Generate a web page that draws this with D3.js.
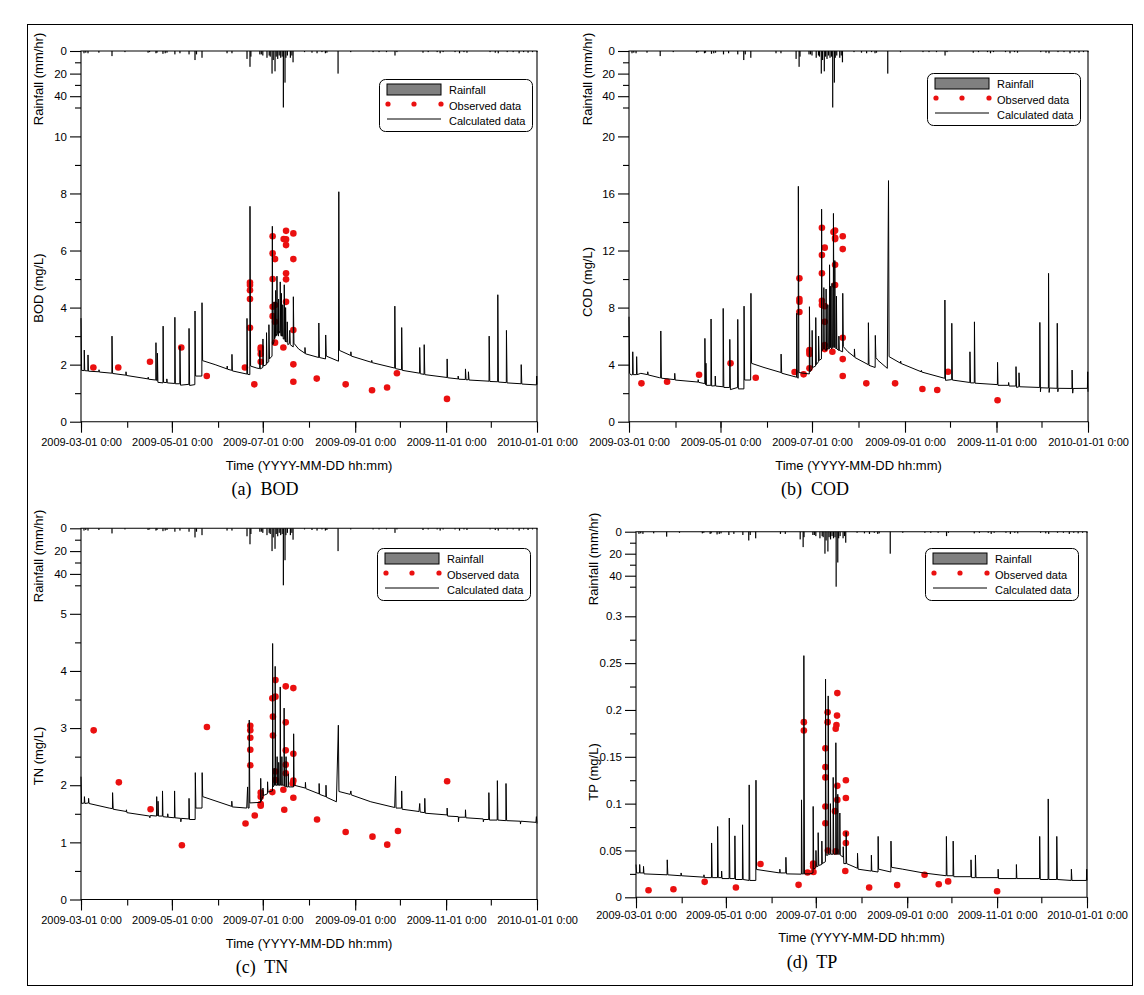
<!DOCTYPE html>
<html><head><meta charset="utf-8">
<script src="https://cdn.jsdelivr.net/npm/d3@7"></script>
<style>
body{margin:0;background:#fff}
svg{display:block}
text{font-family:"Liberation Sans",Arial,sans-serif;fill:#000}
</style>
</head><body>
<svg id="chart" width="1144" height="995"></svg>
<script>
// ---------------- DATA (days since 2009-03-01 0:00, value) ----------------
const startDate = "2009-03-01";
const endDate = "2010-01-01";

// hourly rainfall events: [day, mm/hr]
const rainfall = [[2,2],[3.2,1.5],[4.7,2],[12,1.5],[20.8,4.5],[29.5,1],[45,1.5],[46,1],[50.3,2],[51,1.5],[55,2.5],[56.5,2],[57.7,1.5],[63,3],[66.4,2],[72.5,3],[76.5,8],[77.5,3],[81.2,6],[98,2],[101.3,2],[111.4,7],[113.4,14],[114,5],[120,3],[121,3],[122,4],[124.8,6],[126.3,4],[127,5],[128.2,20],[129,8],[130.2,18],[131,5],[132,7],[133,4],[134,6],[135,5],[135.8,50],[136.9,28],[137.5,6],[138.5,4],[140.5,6],[141.5,4],[142.3,10],[150,1],[155,1.5],[158.4,2],[161.7,1],[164,2],[165,1.5],[172.5,20],[181,1],[196,1],[200,1],[205,1],[210.7,4],[212,1],[229.5,1.5],[233,1],[239,1],[241,2],[243,1],[251,1],[254,2],[257,1],[259,1.5],[274.5,1],[278,1.5],[280,2],[286,1],[290,1],[294,2],[297,1],[300,1.5],[303,1],[306,1]];

const bodObserved = [[8.3,1.9],[25,1.9],[46.3,2.1],[67.3,2.6],[84.4,1.6],[110,1.9],[113.4,4.88],[113.4,4.79],[113.4,4.61],[113.4,4.3],[113.4,3.29],[116.3,1.31],[120.6,2.6],[120.6,2.51],[120.6,2.37],[120.6,2.1],[128.6,6.5],[128.6,5.9],[128.6,5.0],[128.6,4.03],[128.6,3.7],[130.2,5.7],[130.2,4.09],[130.2,3.5],[130.2,2.77],[135.8,2.6],[136,6.4],[137.6,6.69],[137.6,6.39],[137.6,6.19],[137.6,5.2],[137.6,4.99],[137.6,4.2],[142.5,6.6],[142.5,5.7],[142.5,3.21],[142.5,2.01],[142.5,1.4],[158.2,1.51],[177.6,1.31],[195.3,1.1],[205.4,1.2],[212,1.7],[245.6,0.8]];
const codObserved = [[8.3,2.69],[25.4,2.8],[46.7,3.29],[67.7,4.09],[84.5,3.08],[110.4,3.48],[113.6,10.05],[113.6,8.6],[113.6,8.41],[113.6,7.69],[116.4,3.32],[120.3,5.02],[120.3,4.91],[120.3,4.74],[120.3,3.74],[128.6,13.6],[128.6,11.68],[128.6,10.4],[128.6,8.48],[128.6,8.18],[130.5,12.2],[130.5,8.1],[130.5,7.0],[130.5,5.37],[130.5,5.09],[135.6,4.9],[136.3,13.3],[137.4,13.4],[137.4,12.9],[137.4,12.8],[137.4,11.0],[137.4,9.58],[142.5,13.0],[142.5,12.1],[142.5,5.89],[142.5,4.39],[142.5,3.2],[158.2,2.69],[177.4,2.69],[195.6,2.29],[205.5,2.22],[212.7,3.5],[245.7,1.5]];
const tnObserved = [[8.5,2.96],[25.4,2.05],[46.7,1.58],[67.7,0.95],[84.5,3.02],[110.4,1.33],[113.6,3.04],[113.6,2.96],[113.6,2.83],[113.6,2.62],[113.6,2.35],[116.6,1.47],[120.6,1.87],[120.6,1.8],[120.6,1.64],[120.6,1.67],[128.4,3.52],[128.8,3.2],[128.8,2.87],[128.4,1.88],[130.5,3.84],[130.5,3.55],[130.5,2.24],[130.5,2.09],[135.8,1.92],[136.4,1.57],[137.4,3.73],[137.4,3.1],[137.4,2.61],[137.4,2.36],[137.4,2.21],[142.5,3.7],[142.5,2.55],[142.5,2.08],[142.5,1.78],[142.1,2.03],[158.4,1.4],[177.6,1.18],[195.6,1.1],[205.5,0.96],[212.7,1.2],[245.7,2.07]];
const tpObserved = [[8.5,0.0075],[25.4,0.0086],[46.6,0.0165],[67.8,0.0104],[84.5,0.0355],[110.3,0.0133],[113.9,0.187],[113.9,0.178],[116.4,0.0265],[120.2,0.036],[120.2,0.033],[120.4,0.027],[128.5,0.159],[128.5,0.139],[128.5,0.128],[128.5,0.097],[128.5,0.079],[130,0.1975],[130,0.187],[130.2,0.05],[135.5,0.18],[136,0.184],[136.4,0.194],[136.6,0.218],[136.6,0.119],[136.6,0.104],[135,0.092],[135.5,0.049],[142.4,0.125],[142.4,0.106],[142.4,0.068],[142.4,0.058],[142,0.028],[158.2,0.0104],[177.2,0.013],[195.8,0.024],[205.4,0.014],[211.8,0.017],[245,0.0065]];

const bodCalculated = [[0,3.63],[0.4,1.8],[2.1,1.79],[2.2,2.51],[2.5,1.79],[4.6,1.78],[4.7,2.34],[5.0,1.77],[12,1.75],[12.1,1.82],[12.3,1.74],[20.7,1.7],[20.8,3.0],[21.2,1.69],[30.1,1.63],[30.2,1.75],[30.5,1.62],[45,1.5],[45.1,1.56],[45.3,1.49],[50.2,1.46],[50.3,2.77],[50.6,1.45],[51.2,1.44],[51.3,2.4],[51.6,1.38],[55,1.36],[55.1,3.35],[55.4,1.38],[57.5,1.37],[57.6,1.5],[57.9,1.36],[62.9,1.34],[63,3.66],[63.3,1.33],[66.3,1.33],[66.4,2.65],[66.8,1.28],[72.4,1.31],[72.5,3.27],[72.9,1.27],[76.4,1.3],[76.5,3.88],[76.9,1.6],[81.1,1.6],[81.2,4.17],[81.6,2.14],[90,2.0],[98,1.85],[98.1,1.95],[98.3,1.84],[101.2,1.8],[101.3,2.36],[101.6,1.78],[111.3,1.67],[111.4,3.62],[111.8,1.66],[113.3,1.65],[113.4,7.55],[113.8,1.95],[118,1.88],[119.9,1.86],[120,2.5],[120.3,1.85],[122,1.9],[122.1,2.9],[122.4,1.95],[124.4,2.0],[124.5,3.12],[124.8,2.05],[126,2.1],[126.1,3.4],[126.5,2.2],[128.2,2.3],[128.4,6.85],[128.7,2.7],[129.5,2.8],[129.6,4.2],[129.9,2.9],[130.5,3.0],[130.6,4.6],[130.9,3.0],[131.4,3.1],[131.5,5.1],[131.8,3.1],[132.5,3.0],[132.6,4.3],[132.9,3.1],[133.6,3.2],[133.7,4.9],[134,3.1],[134.4,3.0],[134.5,4.5],[134.8,3.0],[135.3,3.0],[135.4,4.1],[135.7,2.9],[136.3,2.9],[136.4,4.8],[136.7,2.9],[137.2,2.8],[137.3,4.0],[137.6,2.8],[138.3,2.8],[138.4,3.5],[138.8,2.7],[140,2.75],[140.1,3.2],[140.4,2.7],[142.4,2.62],[142.5,4.38],[142.9,2.75],[146,2.55],[150.2,2.4],[150.3,2.6],[150.6,2.38],[159.5,2.25],[159.6,3.46],[160,2.25],[164.1,2.2],[164.2,3.04],[164.6,2.3],[172.8,2.12],[173,8.06],[173.4,2.5],[181,2.32],[181.1,2.45],[181.4,2.3],[195,2.08],[195.1,2.15],[195.4,2.07],[210.5,1.88],[210.6,4.05],[211,1.86],[215.1,1.82],[215.2,3.3],[215.6,1.8],[227.2,1.7],[227.3,2.6],[227.7,1.68],[230.2,1.66],[230.3,2.7],[230.7,1.65],[245.6,1.55],[245.7,2.2],[246,1.54],[253,1.5],[253.1,1.6],[253.4,1.49],[257.9,1.48],[258,1.85],[258.4,1.47],[259.9,1.47],[260,1.75],[260.4,1.46],[273.8,1.42],[273.9,3.0],[274.3,1.41],[279.6,1.4],[279.7,4.45],[280.1,1.39],[285.4,1.37],[285.5,3.2],[285.9,1.36],[295.3,1.33],[295.4,2.0],[295.8,1.32],[305.6,1.29],[305.8,1.6],[306,1.3]];

const codCalculated = [[0,7.36],[0.4,3.4],[1.4,3.27],[2.4,3.3],[2.5,4.9],[2.8,3.3],[5.0,3.3],[5.1,4.56],[5.4,3.3],[7.9,3.39],[12.4,3.3],[12.5,3.5],[12.8,3.28],[20.5,3.08],[21.1,3.07],[21.2,6.36],[21.6,3.05],[30.4,2.95],[30.5,3.39],[30.8,2.92],[46,2.78],[46.1,2.95],[46.4,2.76],[50.5,2.67],[50.6,5.84],[51,2.6],[51.2,2.6],[51.3,4.1],[51.6,2.55],[54.6,2.55],[54.7,7.2],[55.1,2.5],[57.4,2.52],[57.5,3.2],[57.8,2.5],[62.7,2.45],[62.8,7.94],[63.2,2.4],[67.1,2.4],[67.2,5.77],[67.6,2.25],[72.4,2.4],[72.5,7.17],[72.9,2.3],[76.6,2.3],[76.7,8.1],[77.1,2.92],[81.1,2.92],[81.3,9.0],[81.7,4.09],[90,3.8],[101.3,3.45],[101.4,4.74],[101.8,3.4],[111.7,3.12],[111.8,7.6],[112.1,3.1],[112.8,3.05],[112.9,16.5],[113.3,3.45],[116,3.4],[120.2,3.35],[120.3,8.06],[120.7,3.5],[122,3.7],[122.1,6.4],[122.4,3.8],[124.4,3.9],[124.5,7.3],[124.9,4.0],[126.3,4.2],[126.4,6.0],[126.8,4.3],[128.3,4.4],[128.4,14.9],[128.8,5.0],[129.8,5.1],[129.9,9.4],[130.2,5.1],[131.3,5.0],[131.4,9.3],[131.7,5.0],[132.5,5.2],[132.6,8.2],[132.9,5.1],[133.6,5.1],[133.7,11.0],[134,5.2],[134.3,5.2],[134.4,9.5],[134.7,5.2],[135.2,5.1],[135.3,9.7],[135.6,5.2],[136.2,5.2],[136.3,14.6],[136.7,5.3],[137.1,5.2],[137.2,11.3],[137.5,5.2],[138.2,5.1],[138.3,8.8],[138.6,5.1],[139.8,5.0],[139.9,6.0],[140.2,5.0],[142.4,4.9],[142.5,9.0],[142.9,5.26],[146,4.9],[150.2,4.55],[150.3,5.1],[150.6,4.5],[159.5,4.0],[159.6,6.94],[160,3.95],[164.1,3.8],[164.2,6.05],[164.6,4.5],[166,4.3],[172.2,3.74],[173,16.9],[173.4,4.56],[181,4.1],[181.1,4.25],[181.4,4.08],[194.8,3.5],[194.9,3.6],[195.2,3.48],[210.5,3.04],[210.6,8.53],[211,2.9],[215.1,2.95],[215.2,6.9],[215.6,2.92],[227.2,2.75],[227.3,4.9],[227.7,2.72],[230.2,2.72],[230.3,7.0],[230.7,2.7],[245.6,2.6],[245.7,4.16],[246,2.55],[253,2.55],[253.1,2.75],[253.4,2.5],[257.9,2.5],[258,3.86],[258.4,2.4],[259.9,2.45],[260,3.43],[260.4,2.45],[273.8,2.4],[273.9,6.96],[274.3,2.1],[274.5,2.38],[279.6,2.36],[279.7,10.4],[280.1,2.05],[280.4,2.36],[285.4,2.34],[285.5,6.9],[285.9,2.1],[286.2,2.34],[295.3,2.33],[295.4,3.62],[295.8,2.0],[296.1,2.33],[305.6,2.34],[305.8,3.5],[306,2.1]];

const tnCalculated = [[0,2.15],[0.4,1.68],[2.2,1.69],[2.3,1.8],[2.6,1.68],[5.0,1.69],[5.1,1.77],[5.4,1.68],[18.9,1.6],[21.1,1.59],[21.2,1.87],[21.6,1.58],[30.4,1.54],[30.5,1.57],[30.8,1.52],[46.1,1.46],[46.2,1.43],[46.5,1.47],[50.7,1.46],[50.8,1.8],[51.1,1.47],[51.6,1.47],[51.7,1.72],[52,1.46],[54.6,1.46],[54.7,1.9],[55,1.45],[58.1,1.44],[58.2,1.5],[58.5,1.44],[62.7,1.43],[62.8,1.9],[63.1,1.43],[66.9,1.42],[67,1.36],[67.3,1.42],[72.4,1.41],[72.5,1.77],[72.8,1.4],[76.6,1.4],[76.7,2.22],[77.1,1.6],[81.2,1.6],[81.3,2.22],[81.7,1.8],[101.1,1.63],[101.2,1.72],[101.5,1.62],[111.2,1.6],[111.8,1.97],[112.1,1.6],[112.8,1.6],[112.9,3.14],[113.3,1.69],[120.5,1.7],[120.6,2.12],[120.9,1.72],[122,1.8],[122.1,1.95],[122.4,1.82],[125.1,1.85],[125.2,2.06],[125.5,1.88],[128.5,1.9],[128.6,4.48],[128.9,1.97],[129.5,2.0],[129.6,2.3],[129.9,2.0],[130.2,2.0],[130.3,4.08],[130.6,2.0],[131.5,2.0],[131.6,2.5],[131.9,2.0],[132.6,2.0],[132.7,2.4],[133,2.0],[133.6,2.0],[133.7,3.72],[134,2.0],[134.7,2.0],[134.8,2.5],[135.1,2.0],[136.2,2.0],[136.3,3.35],[136.6,1.98],[137.5,1.98],[137.6,2.5],[137.9,1.97],[139,1.97],[139.1,2.2],[139.4,1.97],[142.6,1.97],[142.7,2.9],[143,2.0],[150.5,1.95],[150.6,2.05],[150.9,1.94],[159.7,1.85],[159.8,2.03],[160.1,1.84],[164.3,1.8],[164.4,2.0],[164.7,1.79],[171.4,1.71],[172.7,3.05],[173.1,1.89],[180.6,1.84],[181.1,1.9],[181.4,1.83],[194.5,1.71],[210.5,1.61],[211.1,2.16],[211.4,1.6],[215.1,1.6],[215.2,1.9],[215.5,1.58],[226.8,1.54],[227.3,1.68],[227.6,1.53],[230.6,1.52],[230.7,1.77],[231,1.51],[245.6,1.48],[245.7,1.6],[246,1.46],[253.2,1.45],[253.3,1.36],[253.6,1.44],[257.9,1.44],[258,1.57],[258.3,1.43],[269.9,1.41],[270,1.36],[270.3,1.4],[273.6,1.4],[273.7,1.87],[274.1,1.39],[279.3,1.39],[279.4,2.08],[279.8,1.39],[285.1,1.38],[285.2,2.03],[285.6,1.38],[294.8,1.37],[294.9,1.32],[295.2,1.37],[305.3,1.35],[305.6,1.45],[306,1.33]];

const tpCalculated = [[0,0.035],[0.4,0.026],[2.4,0.026],[2.5,0.035],[2.8,0.026],[5,0.026],[5.1,0.033],[5.4,0.025],[21.1,0.024],[21.2,0.04],[21.6,0.024],[30.5,0.023],[30.6,0.026],[30.9,0.023],[46,0.0215],[46.1,0.024],[46.4,0.021],[51.2,0.021],[51.3,0.058],[51.7,0.021],[55.3,0.021],[55.4,0.0756],[55.8,0.021],[58,0.021],[58.1,0.028],[58.4,0.02],[63.2,0.02],[63.3,0.0846],[63.7,0.02],[67,0.02],[67.1,0.0656],[67.5,0.019],[72.2,0.019],[72.3,0.0774],[72.7,0.019],[76.7,0.018],[76.8,0.12],[77.2,0.018],[81.3,0.018],[81.4,0.125],[81.8,0.0297],[97.5,0.026],[97.6,0.03],[97.9,0.026],[101.6,0.026],[101.7,0.0427],[102.1,0.025],[112.2,0.0247],[112.3,0.104],[112.7,0.025],[113.8,0.025],[113.9,0.258],[114.3,0.025],[118,0.025],[120.1,0.026],[120.2,0.097],[120.6,0.03],[122,0.032],[122.1,0.05],[122.4,0.033],[123.5,0.033],[123.6,0.069],[124,0.034],[126,0.035],[126.1,0.06],[126.4,0.036],[128.5,0.038],[128.6,0.233],[129,0.045],[130.3,0.045],[130.4,0.215],[130.8,0.046],[131.8,0.046],[131.9,0.1],[132.2,0.046],[133.7,0.046],[133.8,0.128],[134.2,0.046],[135.5,0.046],[135.6,0.165],[136,0.046],[136.8,0.046],[136.9,0.11],[137.2,0.046],[138.2,0.046],[138.3,0.09],[138.6,0.045],[140.5,0.043],[140.6,0.054],[141,0.036],[142.5,0.036],[142.6,0.07],[142.9,0.036],[150.2,0.031],[150.3,0.047],[150.7,0.03],[159.6,0.028],[159.7,0.045],[160,0.028],[164.2,0.027],[164.3,0.065],[164.6,0.03],[172.9,0.027],[173,0.06],[173.4,0.032],[181,0.03],[195,0.026],[210.5,0.023],[210.6,0.065],[211,0.023],[215.1,0.023],[215.2,0.06],[215.6,0.022],[227.2,0.022],[227.3,0.04],[227.7,0.021],[230.2,0.021],[230.3,0.045],[230.7,0.021],[245.6,0.021],[245.7,0.03],[246,0.02],[258,0.02],[258.1,0.035],[258.4,0.02],[273.8,0.02],[273.9,0.065],[274.3,0.019],[279.6,0.019],[279.7,0.105],[280.1,0.019],[285.4,0.019],[285.5,0.065],[285.9,0.019],[295.3,0.018],[295.4,0.03],[295.8,0.018],[305.6,0.018],[305.8,0.03],[306,0.018]];

// axis tick labels
const rainMajorTicks = [0, 20, 40];
const rainMinorTicks = [10, 30, 50];
const bodTicks = [0, 2, 4, 6, 8, 10], bodMinor = [1, 3, 5, 7, 9];
const codTicks = [0, 4, 8, 12, 16, 20], codMinor = [2, 6, 10, 14, 18];
const tnTicks = [0, 1, 2, 3, 4, 5], tnMinor = [0.5, 1.5, 2.5, 3.5, 4.5];
const tpTicks = [0, 0.05, 0.1, 0.15, 0.2, 0.25, 0.3], tpMinor = [0.025, 0.075, 0.125, 0.175, 0.225, 0.275];
const legendLabels = ["Rainfall", "Observed data", "Calculated data"];
const xTitle = "Time (YYYY-MM-DD hh:mm)";
const rainTitle = "Rainfall (mm/hr)";

// ---------------- LAYOUT ----------------
const panels = [
  {cap:"(a)  BOD", capX:265, yTitle:"BOD (mg/L)", obs:bodObserved, calc:bodCalculated, ticks:bodTicks, minor:bodMinor,
   L:81, R:537, T:51, B:421.7, topTickY:136.4, rainPerMm:1.13, yTitleY:288, rainTitleY:79, titleX:38, legX:379, legY:79,
   lblPad:6, xTitleDy:48, capDy:73},
  {cap:"(b)  COD", capX:815, yTitle:"COD (mg/L)", obs:codObserved, calc:codCalculated, ticks:codTicks, minor:codMinor,
   L:629, R:1088, T:51, B:421.7, topTickY:136.4, rainPerMm:1.13, yTitleY:282, rainTitleY:79, titleX:587, legX:927, legY:73,
   lblPad:6, xTitleDy:48, capDy:73},
  {cap:"(c)  TN", capX:262, yTitle:"TN (mg/L)", obs:tnObserved, calc:tnCalculated, ticks:tnTicks, minor:tnMinor,
   L:81, R:537, T:528.3, B:899.5, topTickY:613.8, rainPerMm:1.14, yTitleY:756, rainTitleY:556, titleX:38, legX:377, legY:548,
   lblPad:6, xTitleDy:48, capDy:73},
  {cap:"(d)  TP", capX:812, yTitle:"TP (mg/L)", obs:tpObserved, calc:tpCalculated, ticks:tpTicks, minor:tpMinor,
   L:636, R:1087, T:531.7, B:897.3, topTickY:616.3, rainPerMm:1.1, yTitleY:772, rainTitleY:559, titleX:593, legX:925, legY:548,
   lblPad:3, xTitleDy:45, capDy:71}
];

const svg = d3.select("#chart");
svg.append("rect").attr("x", 27.5).attr("y", 24.5).attr("width", 1105).attr("height", 961)
  .attr("fill", "none").attr("stroke", "#000").attr("stroke-width", 1);

const parse = d3.timeParse("%Y-%m-%d");
const t0 = parse(startDate), t1 = parse(endDate);
const toDate = d => new Date(+t0 + d * 864e5);
const fmt = d3.timeFormat("%Y-%m-%d %-H:%M");
const RED = "#ea1010";

panels.forEach(p => {
  const g = svg.append("g");
  const x = d3.scaleTime().domain([t0, t1]).range([p.L, p.R]);
  const topVal = p.ticks[p.ticks.length - 1];
  const y = d3.scaleLinear().domain([0, topVal]).range([p.B, p.topTickY]);
  const r = d3.scaleLinear().domain([0, 50]).range([p.T, p.T + 50 * p.rainPerMm]);

  // rainfall bars hanging from top
  g.append("g").selectAll("rect").data(rainfall).join("rect")
    .attr("x", d => x(toDate(d[0])) - 0.6).attr("y", p.T)
    .attr("width", 1.2).attr("height", d => r(d[1]) - p.T).attr("fill", "#000");

  // observed dots
  g.append("g").selectAll("circle").data(p.obs).join("circle")
    .attr("cx", d => x(toDate(d[0]))).attr("cy", d => y(d[1])).attr("r", 3.3).attr("fill", RED);

  // calculated line
  const line = d3.line().x(d => x(toDate(d[0]))).y(d => y(d[1]));
  g.append("path").datum(p.calc).attr("d", line).attr("fill", "none")
    .attr("stroke", "#000").attr("stroke-width", 1).attr("stroke-linejoin", "round");

  // spines
  g.append("path").attr("d", `M${p.L},${p.T}H${p.R}V${p.B}H${p.L}Z`).attr("fill", "none").attr("stroke", "#000").attr("stroke-width", 1.1);

  // value axis
  const va = g.append("g").attr("transform", `translate(${p.L},0)`)
    .call(d3.axisLeft(y).tickValues(p.ticks).tickSize(11).tickPadding(3).tickFormat(d => String(d)));
  const vm = g.append("g").attr("transform", `translate(${p.L},0)`)
    .call(d3.axisLeft(y).tickValues(p.minor).tickSize(6).tickFormat(""));
  const ra = g.append("g").attr("transform", `translate(${p.L},0)`)
    .call(d3.axisLeft(r).tickValues(rainMajorTicks).tickSize(11).tickPadding(3));
  const rm = g.append("g").attr("transform", `translate(${p.L},0)`)
    .call(d3.axisLeft(r).tickValues(rainMinorTicks).tickSize(6).tickFormat(""));
  // time axis
  const xa = g.append("g").attr("transform", `translate(0,${p.B})`)
    .call(d3.axisBottom(x).ticks(d3.timeMonth.every(2)).tickSize(11).tickPadding(p.lblPad).tickFormat(fmt));
  const xm = g.append("g").attr("transform", `translate(0,${p.B})`)
    .call(d3.axisBottom(x).ticks(d3.timeMonth.every(1)).tickSize(6).tickFormat(""));

  [va, vm, ra, rm, xa, xm].forEach(a => {
    a.select(".domain").remove();
    a.selectAll(".tick line").attr("stroke", "#000").attr("stroke-width", 1.1);
    a.selectAll("text").attr("font-family", "Liberation Sans, Arial, sans-serif").attr("fill", "#000");
  });
  [va, ra].forEach(a => a.selectAll("text").attr("font-size", 11.5));
  xa.selectAll("text").attr("font-size", 11);

  // titles
  g.append("text").attr("transform", `translate(${p.titleX},${p.rainTitleY}) rotate(-90)`)
    .attr("text-anchor", "middle").attr("dominant-baseline", "central").attr("font-size", 13).text(rainTitle);
  g.append("text").attr("transform", `translate(${p.titleX},${p.yTitleY}) rotate(-90)`)
    .attr("text-anchor", "middle").attr("dominant-baseline", "central").attr("font-size", 13).text(p.yTitle);
  g.append("text").attr("x", (p.L + p.R) / 2).attr("y", p.B + p.xTitleDy).attr("text-anchor", "middle")
    .attr("font-size", 13).text(xTitle);
  g.append("text").attr("x", p.capX).attr("y", p.B + p.capDy).attr("text-anchor", "middle")
    .attr("font-size", 18).style("font-family", "'Liberation Serif', 'DejaVu Serif', serif")
    .attr("xml:space", "preserve").style("white-space", "pre").text(p.cap);

  // legend
  const lg = g.append("g").attr("transform", `translate(${p.legX},${p.legY})`);
  lg.append("rect").attr("x", 0.5).attr("y", 0.5).attr("width", 153).attr("height", 52).attr("rx", 6)
    .attr("fill", "#fff").attr("stroke", "#000").attr("stroke-width", 1);
  lg.append("rect").attr("x", 8).attr("y", 5).attr("width", 54).attr("height", 11)
    .attr("fill", "#808080").attr("stroke", "#000").attr("stroke-width", 1);
  [9, 35, 62].forEach(cx => lg.append("circle").attr("cx", cx).attr("cy", 25).attr("r", 2.6).attr("fill", RED));
  lg.append("line").attr("x1", 8).attr("x2", 62).attr("y1", 40).attr("y2", 40).attr("stroke", "#000").attr("stroke-width", 1);
  legendLabels.forEach((t, i) => lg.append("text").attr("x", 70).attr("y", 15 + i * 15.5)
    .attr("font-size", 11).text(t));
});
</script>
</body></html>
